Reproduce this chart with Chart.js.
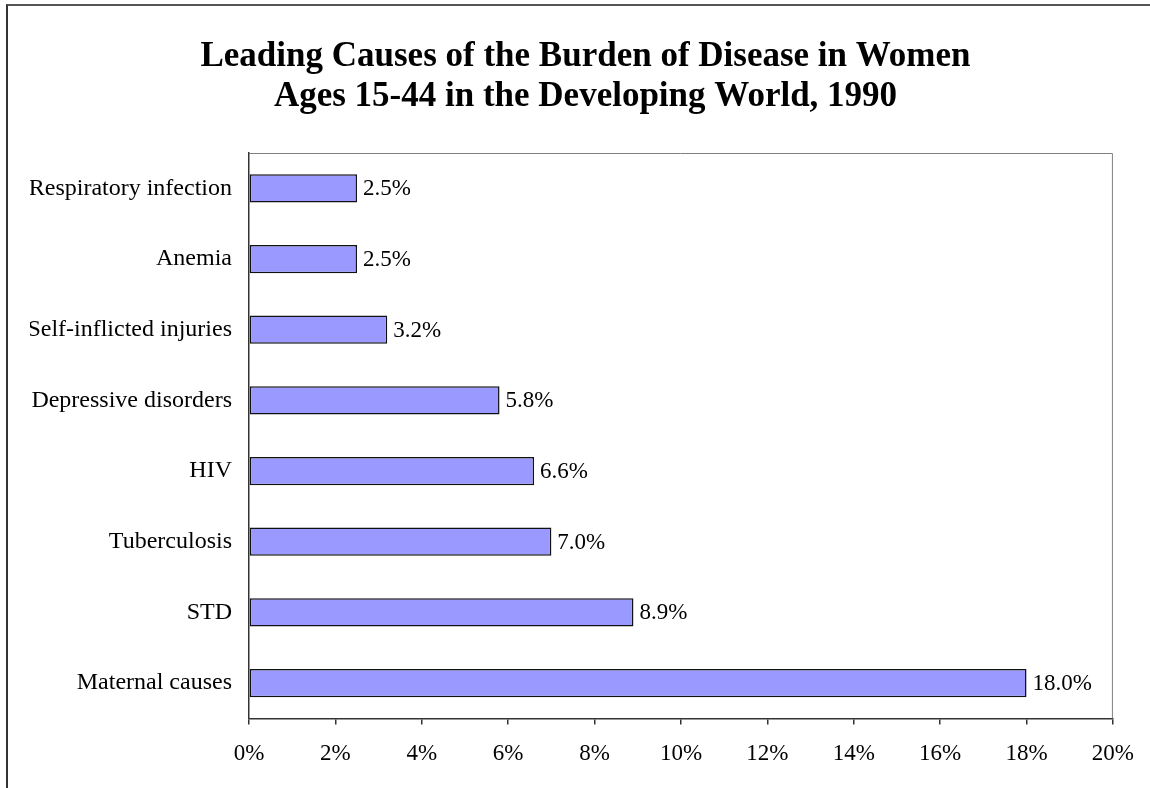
<!DOCTYPE html>
<html>
<head>
<meta charset="utf-8">
<script src="https://cdn.jsdelivr.net/npm/chart.js@4.4.1/dist/chart.umd.min.js"></script>
<style>
  html, body { margin: 0; padding: 0; background: #fff; }
  #wrap { position: relative; width: 1150px; height: 788px; overflow: hidden; }
  #frame {
    position: absolute; left: 6px; top: 4px; width: 1200px; height: 900px;
    border-top: 2px solid #555; border-left: 2px solid #333; box-sizing: border-box;
    pointer-events: none;
  }
  canvas { position: absolute; left: 0; top: 0; }
</style>
</head>
<body>
<div id="wrap">
  <canvas id="c" width="1150" height="788"></canvas>
  <div id="frame"></div>
</div>
<script>
// Causes, listed top to bottom
const causes = [
  'Respiratory infection',
  'Anemia',
  'Self-inflicted injuries',
  'Depressive disorders',
  'HIV',
  'Tuberculosis',
  'STD',
  'Maternal causes'
];
// Share of the disease burden (%)
const burdenShare = [2.5, 2.5, 3.2, 5.8, 6.6, 7.0, 8.9, 18.0];
// Value axis ticks (%)
const axisTicks = [0, 2, 4, 6, 8, 10, 12, 14, 16, 18, 20];

const titleLines = [
  'Leading Causes of the Burden of Disease in Women',
  'Ages 15-44 in the Developing World, 1990'
];

const serif = "'Liberation Serif', 'Times New Roman', serif";

// Nudge the title block so it centres over the whole figure
const titleShift = {
  id: 'titleShift',
  afterLayout(chart) {
    const t = chart.titleBlock;
    if (t) { t.left += 12; t.right += 12; }
  }
};

// Gray frame on the top and right of the plot area
const plotFrame = {
  id: 'plotFrame',
  beforeDatasetsDraw(chart) {
    const { ctx, chartArea: a } = chart;
    ctx.save();
    ctx.strokeStyle = '#808080';
    ctx.lineWidth = 1;
    ctx.beginPath();
    ctx.moveTo(a.left, a.top + 0.5);
    ctx.lineTo(a.right - 0.5, a.top + 0.5);
    ctx.lineTo(a.right - 0.5, a.bottom);
    ctx.stroke();
    ctx.restore();
  }
};

// Value labels to the right of each bar
const barValues = {
  id: 'barValues',
  afterDatasetsDraw(chart) {
    const { ctx } = chart;
    const meta = chart.getDatasetMeta(0);
    ctx.save();
    ctx.font = '23px ' + serif;
    ctx.fillStyle = '#000';
    ctx.textAlign = 'left';
    ctx.textBaseline = 'middle';
    meta.data.forEach((bar, i) => {
      ctx.fillText(burdenShare[i].toFixed(1) + '%', bar.x + 6, bar.y + 1);
    });
    ctx.restore();
  }
};

new Chart(document.getElementById('c'), {
  type: 'bar',
  data: {
    labels: causes,
    datasets: [{
      data: burdenShare,
      backgroundColor: '#9999FF',
      borderColor: '#111',
      borderWidth: 1.5,
      borderSkipped: false,
      barPercentage: 0.4,
      categoryPercentage: 1
    }]
  },
  options: {
    indexAxis: 'y',
    responsive: false,
    animation: false,
    events: [],
    layout: { padding: { left: 30, right: 33, top: 0, bottom: 4 } },
    plugins: {
      legend: { display: false },
      tooltip: { enabled: false },
      title: {
        display: true,
        text: titleLines,
        color: '#000',
        font: { family: serif, size: 35, weight: 'bold', lineHeight: 1.143 },
        padding: { top: 37, bottom: 36 }
      }
    },
    scales: {
      x: {
        min: 0,
        max: 20,
        afterBuildTicks(scale) { scale.ticks = axisTicks.map(v => ({ value: v })); },
        ticks: {
          callback: v => v + '%',
          color: '#000',
          font: { family: serif, size: 23 },
          padding: 16,
          maxRotation: 0
        },
        grid: { drawOnChartArea: false, drawTicks: true, tickLength: 6, color: '#333', lineWidth: 1.5 },
        border: { color: '#333', width: 1.5 }
      },
      y: {
        afterFit(scale) { scale.width = 219; },
        ticks: {
          color: '#000',
          font: { family: serif, size: 24 },
          padding: 17
        },
        grid: { display: false, drawTicks: false },
        border: { color: '#333', width: 1.5 }
      }
    }
  },
  plugins: [titleShift, plotFrame, barValues]
});
</script>
</body>
</html>
